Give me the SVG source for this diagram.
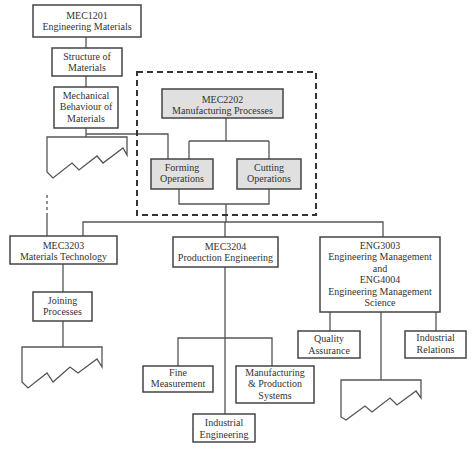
<svg xmlns="http://www.w3.org/2000/svg" width="474" height="450" viewBox="0 0 474 450">
<style>
.b{fill:#fff;stroke:#444;stroke-width:1.5}
.g{fill:#e0e0e0;stroke:#444;stroke-width:1.5}
.c{fill:none;stroke:#555;stroke-width:1.3}
.brk{fill:none;stroke:#555;stroke-width:1.3;stroke-linejoin:miter}
text{font-family:"Liberation Serif","Times New Roman",serif;font-size:10px;fill:#333;text-anchor:middle}
</style>
<rect width="474" height="450" fill="#fff"/>
<g id="connectors">
<path class="c" d="M86,37V48M86,76V87M86,128V137M86,134H168V159"/>
<path class="c" d="M226,118V141M189,141H269M189,141V159M269,141V159"/>
<path class="c" d="M179,189V204H269V189M226,204V222"/>
<path class="c" d="M83,236V222H383V237M225,222V237"/>
<path class="c" d="M47,195V215" stroke-dasharray="3,3"/>
<path class="c" d="M47,215V236"/>
<path class="c" d="M63,264V292M63,321V347"/>
<path class="c" d="M225,267V414M178,366V338H272V366"/>
<path class="c" d="M330,312V331M381,312V380M436,312V331"/>
</g>
<g id="group-mec2202">
<rect x="137" y="72" width="179" height="143" fill="none" stroke="#333" stroke-width="2" stroke-dasharray="6,4"/>
</g>
<g id="mec1201">
<rect class="b" x="33" y="5" width="108" height="32"/>
<text x="87" y="18.5">MEC1201</text>
<text x="87" y="30">Engineering Materials</text>
</g>
<g id="structure">
<rect class="b" x="52" y="48" width="70" height="28"/>
<text x="87" y="59.5">Structure of</text>
<text x="87" y="70.5">Materials</text>
</g>
<g id="mechanical">
<rect class="b" x="54" y="87" width="64" height="41"/>
<text x="86" y="98.5">Mechanical</text>
<text x="86" y="110">Behaviour of</text>
<text x="86" y="121.5">Materials</text>
</g>
<g id="broken1">
<path class="brk" d="M47,137H127V155L123,148L103,163L97,156L79,170L72,163L53,178L47,172Z"/>
</g>
<g id="mec2202">
<rect class="g" x="162" y="89" width="121" height="29"/>
<text x="222.5" y="102.5">MEC2202</text>
<text x="222.5" y="114">Manufacturing Processes</text>
</g>
<g id="forming">
<rect class="g" x="151" y="159" width="62" height="30"/>
<text x="182" y="170.5">Forming</text>
<text x="182" y="182">Operations</text>
</g>
<g id="cutting">
<rect class="g" x="237" y="159" width="64" height="30"/>
<text x="269" y="170.5">Cutting</text>
<text x="269" y="182">Operations</text>
</g>
<g id="mec3203">
<rect class="b" x="10" y="236" width="107" height="28"/>
<text x="63.5" y="248.5">MEC3203</text>
<text x="63.5" y="259.5">Materials Technology</text>
</g>
<g id="joining">
<rect class="b" x="33" y="292" width="59" height="29"/>
<text x="62.5" y="303.5">Joining</text>
<text x="62.5" y="315">Processes</text>
</g>
<g id="broken2">
<path class="brk" d="M22,347H102V367L97,359L78,373L70,367L53,382L47,373L28,388L22,382Z"/>
</g>
<g id="mec3204">
<rect class="b" x="173" y="237" width="105" height="30"/>
<text x="225.5" y="249.5">MEC3204</text>
<text x="225.5" y="261">Production Engineering</text>
</g>
<g id="eng">
<rect class="b" x="320" y="237" width="120" height="75"/>
<text x="380" y="248.5">ENG3003</text>
<text x="380" y="260">Engineering Management</text>
<text x="380" y="271.5">and</text>
<text x="380" y="283">ENG4004</text>
<text x="380" y="294.5">Engineering Management</text>
<text x="380" y="305.5">Science</text>
</g>
<g id="quality">
<rect class="b" x="298" y="331" width="62" height="27"/>
<text x="329" y="341.5">Quality</text>
<text x="329" y="354">Assurance</text>
</g>
<g id="relations">
<rect class="b" x="405" y="331" width="61" height="27"/>
<text x="435.5" y="340.5">Industrial</text>
<text x="435.5" y="352.5">Relations</text>
</g>
<g id="broken3">
<path class="brk" d="M341,380H421V398L416,391L397,405L390,398L372,412L365,406L346,420L341,417Z"/>
</g>
<g id="fine">
<rect class="b" x="143" y="366" width="70" height="26"/>
<text x="178" y="375.5">Fine</text>
<text x="178" y="387">Measurement</text>
</g>
<g id="manufacturing">
<rect class="b" x="236" y="366" width="78" height="37"/>
<text x="275" y="375.5">Manufacturing</text>
<text x="275" y="387">&amp; Production</text>
<text x="275" y="398.5">Systems</text>
</g>
<g id="industrial-eng">
<rect class="b" x="193" y="414" width="62" height="28"/>
<text x="224" y="425.5">Industrial</text>
<text x="224" y="437.5">Engineering</text>
</g>
</svg>
